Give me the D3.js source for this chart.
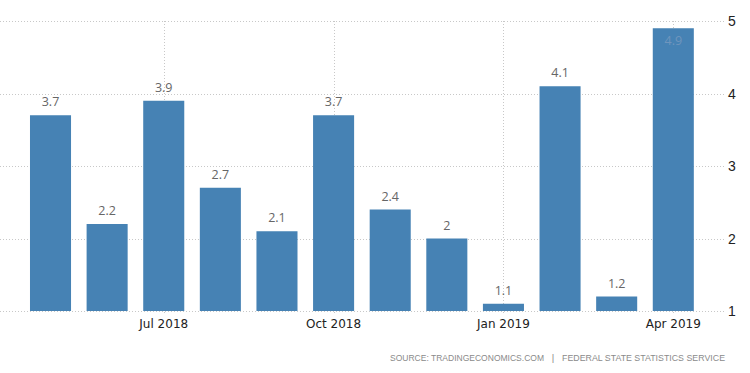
<!DOCTYPE html>
<html><head><meta charset="utf-8">
<script src="https://cdn.jsdelivr.net/npm/d3@7/dist/d3.min.js"></script>
<style>body{margin:0;background:#fff}svg{display:block}</style>
</head><body><svg id="c" width="750" height="373"></svg>
<script>
const months = ["2018-05","2018-06","2018-07","2018-08","2018-09","2018-10","2018-11","2018-12","2019-01","2019-02","2019-03","2019-04"];
const values = [3.7,2.2,3.9,2.7,2.1,3.7,2.4,2,1.1,4.1,1.2,4.9];
const xTickMonths = ["2018-07","2018-10","2019-01","2019-04"];
const xTickLabels = ["Jul 2018","Oct 2018","Jan 2019","Apr 2019"];
const yTicks = [1,2,3,4,5];
const sourceParts = ["SOURCE: TRADINGECONOMICS.COM", "|", "FEDERAL STATE STATISTICS SERVICE"];

const svg = d3.select("#c");
const x = d3.scaleBand().domain(months).range([22.2, 701.6]).paddingInner(0.275).paddingOuter(0.1375);
const y = d3.scaleLinear().domain([1,5]).range([311, 21]);

// horizontal gridlines
svg.append("g").selectAll("line").data(yTicks).join("line")
  .attr("x1", 0).attr("x2", 724)
  .attr("y1", d => Math.round(y(d))+0.5).attr("y2", d => Math.round(y(d))+0.5)
  .attr("stroke", "#c8c8c8").attr("stroke-width", 1).attr("stroke-dasharray", "1,2");
// vertical gridlines
svg.append("g").selectAll("line").data(xTickMonths).join("line")
  .attr("x1", d => Math.round(x(d)+x.bandwidth()/2)+0.5).attr("x2", d => Math.round(x(d)+x.bandwidth()/2)+0.5)
  .attr("y1", y(5)).attr("y2", y(1)+4)
  .attr("stroke", "#c8c8c8").attr("stroke-width", 1).attr("stroke-dasharray", "1,2");

// bars
svg.append("g").selectAll("rect").data(values).join("rect")
  .attr("x", (d,i) => x(months[i])).attr("width", x.bandwidth())
  .attr("y", d => y(d)).attr("height", d => y(1) - y(d))
  .attr("fill", "#4682b4");

// value labels
svg.append("g").selectAll("text").data(values).join("text")
  .attr("x", (d,i) => x(months[i]) + x.bandwidth()/2)
  .attr("y", d => (y(d) - 22 < y(5)) ? y(d) + 17 : y(d) - 9)
  .attr("text-anchor", "middle")
  .attr("font-family", "'Open Sans', sans-serif").attr("font-size", 12.5)
  .attr("fill", d => (y(d) - 22 < y(5)) ? "#6f95bd" : "#666")
  .text(d => String(d));

// x axis labels
svg.append("g").selectAll("text").data(xTickMonths).join("text")
  .attr("x", (d,i) => x(d) + x.bandwidth()/2)
  .attr("y", 328)
  .attr("text-anchor", "middle")
  .attr("font-family", "'DejaVu Sans', sans-serif").attr("font-size", 12)
  .attr("fill", "#222")
  .text((d,i) => xTickLabels[i]);

// y axis labels (right)
svg.append("g").selectAll("text").data(yTicks).join("text")
  .attr("x", 728).attr("y", d => y(d) + 5)
  .attr("font-family", "'Liberation Sans', Arial, sans-serif").attr("font-size", 14)
  .attr("fill", "#222")
  .text(d => d);

// source: fit each part to its width with font-size and letter-spacing
const srcX = [390, 553, 562];
const srcLen = [154, null, 163];
svg.append("g").selectAll("text").data(sourceParts).join("text")
  .attr("x", (d,i) => srcX[i]).attr("y", 361)
  .attr("text-anchor", (d,i) => i === 1 ? "middle" : "start")
  .attr("font-family", "'Liberation Sans', Arial, sans-serif").attr("font-size", 9.5)
  .attr("fill", "#8a8a8a")
  .text(d => d)
  .each(function(d,i){
    if (!srcLen[i]) return;
    const t = d3.select(this);
    let w = this.getComputedTextLength();
    let fs = 9.5;
    if (w > srcLen[i]) { fs = 9.5 * srcLen[i] / w; t.attr("font-size", fs); w = this.getComputedTextLength(); }
    const ls = (srcLen[i] - w) / (d.length - 1);
    if (ls > 0) t.attr("letter-spacing", ls);
  });
</script></body></html>
